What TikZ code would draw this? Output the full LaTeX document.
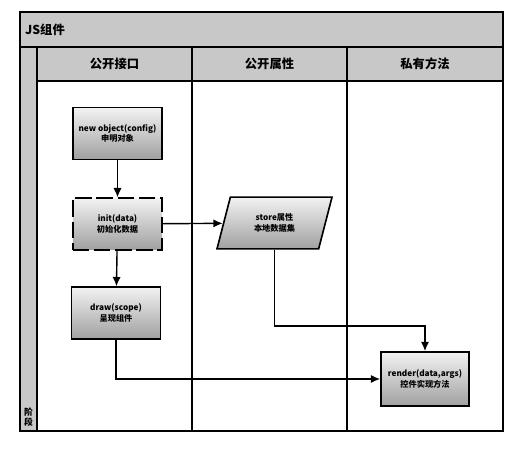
\documentclass[tikz,border=0pt]{standalone}
\usepackage{fontspec}
\setmainfont{Noto Sans CJK SC}
\usepackage{tikz}
\usetikzlibrary{
  arrows.meta,
  positioning,
  shapes.geometric,
}
\definecolor{laneFill}{RGB}{200, 200, 200}
\definecolor{boxTop}  {RGB}{242, 242, 242}
\definecolor{boxBot}  {RGB}{160, 160, 160}

\begin{document}
\begin{tikzpicture}[
  x=0.03cm, y=-0.03cm,
  >=Stealth,
  proc/.style   ={draw=black, line width=1.4pt,
                  top color=boxTop, bottom color=boxBot,
                  minimum width=2.67cm, minimum height=1.55cm,
                  align=center, font=\fontsize{7}{9}\selectfont\bfseries},
  procdash/.style={proc, dash pattern=on 14pt off 4pt},
  data/.style   ={proc, trapezium, trapezium left angle=63,
                  trapezium right angle=117, trapezium stretches body,
                  minimum width=3.45cm},
  flow/.style   ={->, line width=1.2pt, >={Latex[length=8pt,width=7pt]}},
  lane/.style   ={line width=1.3pt},
  hdr/.style    ={font=\fontsize{10.5}{12}\selectfont\bfseries},
]
  \useasboundingbox (0,0) rectangle (531,450);

  % Swimlane frame: title band, phase strip, column headers
  \draw[lane, fill=laneFill] (20,12) rectangle (503,47);
  \draw[lane, fill=laneFill] (20,47) rectangle (37,431);
  \draw[lane, fill=laneFill] (37,47) rectangle (503,81);
  \draw[lane] (20,12) rectangle (503,431);
  \draw[lane] (192,47) -- (192,431);
  \draw[lane] (347,47) -- (347,431);

  \node[hdr, anchor=west] (title) at (21,29.5) {JS组件};
  \node[hdr] (colA) at (114.5,64) {公开接口};
  \node[hdr] (colB) at (269.5,64) {公开属性};
  \node[hdr] (colC) at (425,64)   {私有方法};
  \node[font=\fontsize{7.5}{8.5}\selectfont\bfseries, align=center,
        inner sep=0pt] (phase) at (28.5,417) {阶\\段};

  % Process steps
  \node[proc]     (obj) at (117.5,133.5) {new object(config)\\申明对象};
  \node[procdash] (ini) at (117.5,224)   {init(data)\\初始化数据};
  \node[proc]     (drw) at (116,313)     {draw(scope)\\呈现组件};
  \node[data]     (sto) at (274.5,223)   {store属性\\本地数据集};
  \node[proc, minimum width=2.64cm, minimum height=1.62cm]
                  (rnd) at (425,379)     {render(data,args)\\控件实现方法};

  % Connectors
  \coordinate (drop) at (0,326);
  \draw[flow] (obj) -- (ini);
  \draw[flow] (ini) -- (drw);
  \draw[flow] (ini) -- (sto);
  \draw[flow] (sto.south) -- (sto.south |- drop) -| (rnd.north);
  \draw[flow] (drw.south) |- (rnd.west);
\end{tikzpicture}
\end{document}
